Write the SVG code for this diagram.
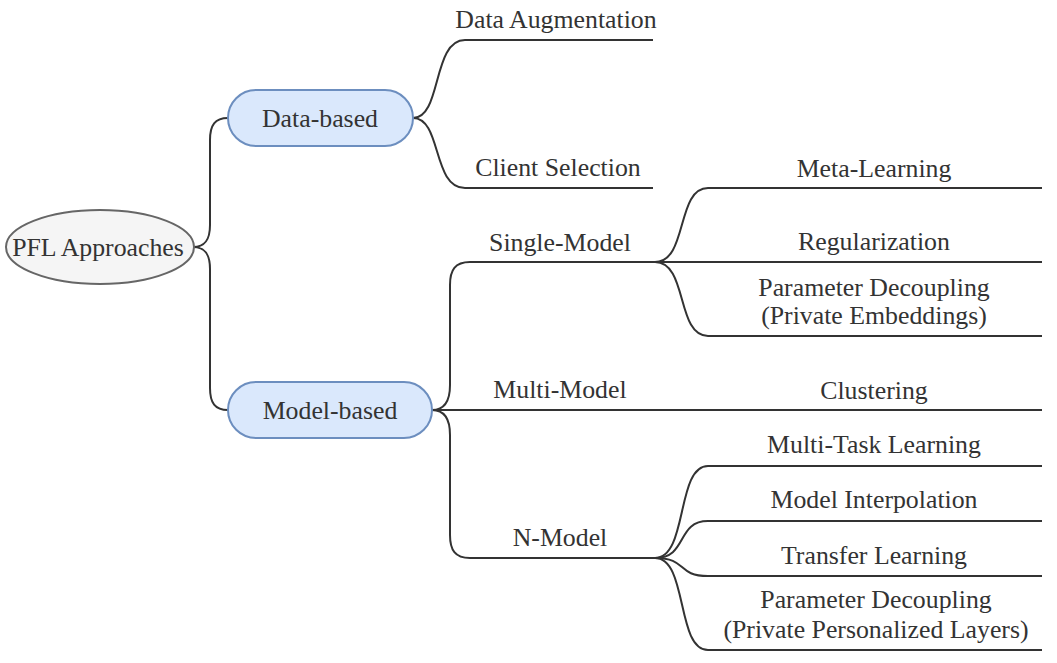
<svg xmlns="http://www.w3.org/2000/svg" width="1057" height="663" viewBox="0 0 1057 663">
<style>
.t{font-family:"Liberation Serif","Times New Roman",serif;font-size:25.8px;fill:#333;text-anchor:middle}
.e{fill:none;stroke:#333;stroke-width:2}
.cat{fill:#dae8fc;stroke:#6c8ebf;stroke-width:2}
.root{fill:#f5f5f5;stroke:#666;stroke-width:2}
</style>
<rect width="1057" height="663" fill="#fff"/>
<g id="connectors">
<path class="e" d="M193,247 C205,247 210,240 210,225 L210,140 C210,125 215,118 228,118"/>
<path class="e" d="M193,247 C205,247 210,254 210,269 L210,388 C210,403 215,410 228,410"/>
<path class="e" d="M413,118 C442,118 432,40 465,40 L653,40"/>
<path class="e" d="M413,118 C442,118 432,188 465,188 L653,188"/>
<path class="e" d="M432,410 C445,410 450,400 450,385 L450,285 C450,270 455,262 470,262 L655,262"/>
<path class="e" d="M432,410 L1042,410"/>
<path class="e" d="M432,410 C445,410 450,420 450,435 L450,535 C450,550 455,558 470,558 L655,558"/>
<path class="e" d="M655,262 C688,262 676,188 708,188 L1042,188"/>
<path class="e" d="M655,262 L1042,262"/>
<path class="e" d="M655,262 C688,262 676,336 708,336 L1042,336"/>
<path class="e" d="M655,558 C688,558 676,466 708,466 L1042,466"/>
<path class="e" d="M655,558 C688,558 676,521 708,521 L1042,521"/>
<path class="e" d="M655,558 C688,558 676,576 708,576 L1042,576"/>
<path class="e" d="M655,558 C688,558 676,650 708,650 L1042,650"/>
</g>
<g id="root"><ellipse class="root" cx="100" cy="247" rx="94" ry="37"/><text class="t" x="98" y="256">PFL Approaches</text></g>
<g id="data-based"><rect class="cat" x="228" y="90" width="185" height="56" rx="28"/><text class="t" x="320" y="127">Data-based</text></g>
<g id="model-based"><rect class="cat" x="228" y="382" width="204" height="56" rx="28"/><text class="t" x="330" y="419">Model-based</text></g>
<g id="data-augmentation"><text class="t" x="556" y="28">Data Augmentation</text></g>
<g id="client-selection"><text class="t" x="558" y="176">Client Selection</text></g>
<g id="single-model"><text class="t" x="560" y="251">Single-Model</text></g>
<g id="multi-model"><text class="t" x="560" y="398">Multi-Model</text></g>
<g id="n-model"><text class="t" x="560" y="546">N-Model</text></g>
<g id="meta-learning"><text class="t" x="874" y="177">Meta-Learning</text></g>
<g id="regularization"><text class="t" x="874" y="250">Regularization</text></g>
<g id="param-decoupling-1"><text class="t" x="874" y="296">Parameter Decoupling</text><text class="t" x="874" y="324">(Private Embeddings)</text></g>
<g id="clustering"><text class="t" x="874" y="399">Clustering</text></g>
<g id="multi-task"><text class="t" x="874" y="453">Multi-Task Learning</text></g>
<g id="model-interpolation"><text class="t" x="874" y="508">Model Interpolation</text></g>
<g id="transfer-learning"><text class="t" x="874" y="564">Transfer Learning</text></g>
<g id="param-decoupling-2"><text class="t" x="876" y="608">Parameter Decoupling</text><text class="t" x="876" y="638">(Private Personalized Layers)</text></g>
</svg>
